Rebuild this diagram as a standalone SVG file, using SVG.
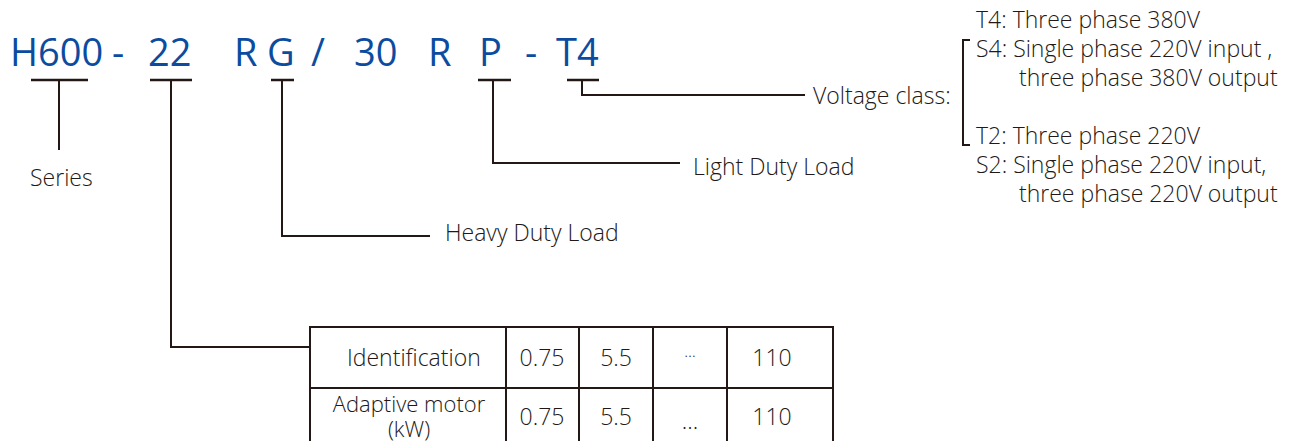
<svg xmlns="http://www.w3.org/2000/svg" width="1300" height="441" viewBox="0 0 1300 441">
<style>
.code{font-family:"Open Sans","Liberation Sans",sans-serif;font-size:38px;fill:#0b4ca0}
.lbl{font-family:"Open Sans","Liberation Sans",sans-serif;font-size:23px;font-weight:300;fill:#231815}
.ln{fill:none;stroke:#231815;stroke-width:2}
.ul{fill:none;stroke:#231815;stroke-width:2.5}
.mid{text-anchor:middle}
</style>
<rect width="1300" height="441" fill="#ffffff"/>
<g id="code">
<text class="code" x="10" y="66">H600</text>
<text class="code" x="112" y="66">-</text>
<text class="code" x="148" y="66">22</text>
<text class="code" x="234" y="66">R</text>
<text class="code" x="267" y="66">G</text>
<text class="code" x="311" y="66">/</text>
<text class="code" x="354" y="66">30</text>
<text class="code" x="428" y="66">R</text>
<text class="code" x="479" y="66">P</text>
<text class="code" x="525" y="66">-</text>
<text class="code" x="556" y="66">T4</text>
</g>
<g id="connectors">
<path class="ul" d="M31 80H88M150 80H192M271 80H294M478 80H511M567 80H599"/>
<path class="ln" d="M59 80V150"/>
<path class="ln" d="M171 80V347H309"/>
<path class="ln" d="M282 80V236H430"/>
<path class="ln" d="M493 80V163H680"/>
<path class="ln" d="M582 80V95H805"/>
<path class="ln" d="M970 40H963V145H970"/>
</g>
<g id="series"><text class="lbl" x="30" y="186">Series</text></g>
<g id="heavy"><text class="lbl" x="445" y="241">Heavy Duty Load</text></g>
<g id="light"><text class="lbl" x="693" y="175">Light Duty Load</text></g>
<g id="voltage">
<text class="lbl" x="813" y="104">Voltage class:</text>
<text class="lbl" x="976" y="28">T4: Three phase 380V</text>
<text class="lbl" x="976" y="57">S4: Single phase 220V input ,</text>
<text class="lbl" x="1019" y="86">three phase 380V output</text>
<text class="lbl" x="976" y="144">T2: Three phase 220V</text>
<text class="lbl" x="976" y="173">S2: Single phase 220V input,</text>
<text class="lbl" x="1019" y="202">three phase 220V output</text>
</g>
<g id="table">
<path class="ln" d="M310 447V327H833V447M310 388H833M506 327V447M579 327V447M653 327V447M727 327V447"/>
<text class="lbl" x="347" y="366">Identification</text>
<text class="lbl mid" x="542" y="366">0.75</text>
<text class="lbl mid" x="616" y="366">5.5</text>
<text class="lbl mid" x="690" y="357" style="font-size:16px">…</text>
<text class="lbl mid" x="772" y="366">110</text>
<text class="lbl mid" x="409" y="412" style="font-size:22px">Adaptive motor</text>
<text class="lbl mid" x="409" y="437" style="font-size:22px">(kW)</text>
<text class="lbl mid" x="542" y="425">0.75</text>
<text class="lbl mid" x="616" y="425">5.5</text>
<text class="lbl mid" x="690" y="429">…</text>
<text class="lbl mid" x="772" y="425">110</text>
</g>
</svg>
